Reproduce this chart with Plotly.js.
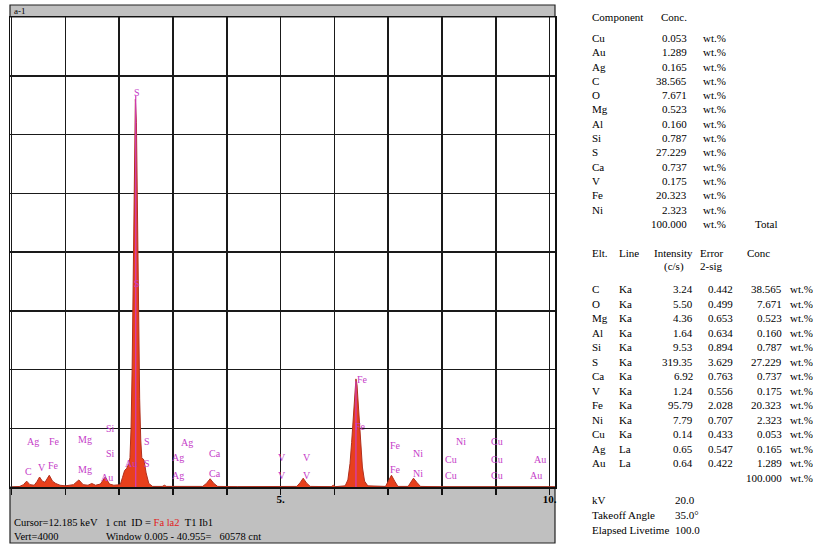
<!DOCTYPE html>
<html>
<head>
<meta charset="utf-8">
<script src="https://cdn.plot.ly/plotly-3.0.1.min.js"></script>
<style>
html,body{margin:0;padding:0;background:#fff;}
#chart{width:813px;height:545px;}
</style>
</head>
<body>
<div id="chart"></div>
<script>
// ---- Spectrum data (energy in keV, counts) ----
const energy = [0.00,0.15,0.22,0.28,0.34,0.42,0.47,0.52,0.57,0.62,0.70,0.76,0.82,0.90,1.00,1.15,1.25,1.33,1.42,1.49,1.56,1.65,1.74,1.82,1.90,
  2.02,2.06,2.10,2.14,2.18,2.20,2.22,2.24,2.26,2.28,2.30,2.32,2.34,2.36,2.38,2.40,2.42,2.46,2.50,2.55,2.62,2.80,2.84,2.88,3.20,
  3.55,3.62,3.69,3.76,3.83,4.20,5.30,5.36,5.42,5.48,5.55,5.94,5.98,6.02,
  6.20,6.25,6.29,6.32,6.35,6.38,6.40,6.42,6.45,6.48,6.52,6.56,6.62,
  6.95,7.00,7.06,7.12,7.18,7.37,7.42,7.47,7.53,7.60,8.00,9.00,10.10];
const counts = [0,5,20,50,20,15,45,85,50,40,100,50,30,15,10,20,60,20,15,30,15,25,85,25,15,
  20,80,140,160,200,250,500,1000,1800,2700,3300,3100,2300,1400,750,400,250,230,120,30,5,5,15,5,4,
  5,30,70,30,5,3,5,35,75,35,5,3,15,3,
  10,60,200,380,620,850,920,870,650,400,170,50,10,
  5,50,100,50,5,5,40,75,40,5,2,2,2];

// KLM marker lines
const markerEnergy = [2.307, 6.40];
const markerTop = [3330, 900];

// Element labels on the spectrum
const labelText = ['S','S','Ag','Fe','C','V','Fe','Mg','Mg','Si','Si','Au','S','Au','S','Ag','Ag','Ag','Ca','Ca',
  'V','V','V','V','Fe','Fe','Fe','Fe','Ni','Ni','Ni','Cu','Cu','Cu','Cu','Cu','Au','Au'];
const labelEnergy = [2.33,2.33,0.40,0.79,0.32,0.56,0.77,1.36,1.36,1.83,1.83,1.77,2.52,2.22,2.52,3.26,3.09,3.09,3.78,3.78,
  5.03,5.03,5.49,5.49,6.52,6.48,7.13,7.13,7.56,7.56,8.36,8.17,8.17,9.03,9.03,9.03,9.83,9.75];
const labelCounts = [3361,1736,391,391,136,170,179,408,145,494,289,85,391,204,196,383,247,94,281,111,
  247,102,247,102,919,511,349,153,289,119,391,238,94,391,238,94,238,94];

// Axis tick labels
const tickValues = [0,1,2,3,4,5,6,7,8,9,10];
const tickLabels = ['','','','','','5.','','','','','10.'];

// Table 1
const compNames = ['Cu','Au','Ag','C','O','Mg','Al','Si','S','Ca','V','Fe','Ni'];
const compConc = [0.053,1.289,0.165,38.565,7.671,0.523,0.160,0.787,27.229,0.737,0.175,20.323,2.323];
const compTotal = 100.000;

// Table 2
const eltNames = ['C','O','Mg','Al','Si','S','Ca','V','Fe','Ni','Cu','Ag','Au'];
const eltLines = ['Ka','Ka','Ka','Ka','Ka','Ka','Ka','Ka','Ka','Ka','Ka','La','La'];
const intensity = [3.24,5.50,4.36,1.64,9.53,319.35,6.92,1.24,95.79,7.79,0.14,0.65,0.64];
const error2sig = [0.442,0.499,0.653,0.634,0.894,3.629,0.763,0.556,2.028,0.707,0.433,0.547,0.422];
const eltConc = [38.565,7.671,0.523,0.160,0.787,27.229,0.737,0.175,20.323,2.323,0.053,0.165,1.289];

// Acquisition parameters
const paramNames = ['kV','Takeoff Angle','Elapsed Livetime'];
const paramValues = ['20.0','35.0\u00b0','100.0'];

// ---- layout helpers (pixel -> paper) ----
const PL=10, PR=555, PT=17, PB=487;
const px = x => (x-PL)/(PR-PL);
const py = y => (PB-y)/(PB-PT);
const SERIF = 'Liberation Serif, Times New Roman, serif';
const ann = [];
function txt(x,y,t,anchor,opts){
  ann.push(Object.assign({xref:'paper',yref:'paper',x:px(x),y:py(y),text:t,showarrow:false,
    xanchor:anchor||'left',yanchor:'middle',font:{family:SERIF,size:11,color:'#000'}},opts||{}));
}

// Table 1
txt(590,17,'Component'); txt(659,17,'Conc.');
compNames.forEach((n,i)=>{
  const y=38+i*14.3;
  txt(590,y,n); txt(689,y,compConc[i].toFixed(3),'right'); txt(701,y,'wt.%');
});
txt(689,38+13*14.3,compTotal.toFixed(3),'right'); txt(701,38+13*14.3,'wt.%'); txt(753,38+13*14.3,'Total');

// Table 2
txt(590,253,'Elt.'); txt(617,253,'Line'); txt(652,253,'Intensity'); txt(698,253,'Error'); txt(745,253,'Conc');
txt(662,266,'(c/s)'); txt(698,266,'2-sig');
eltNames.forEach((n,i)=>{
  const y=289+i*14.5;
  txt(590,y,n); txt(617,y,eltLines[i]);
  txt(695,y,intensity[i].toFixed(2),'right');
  txt(735,y,error2sig[i].toFixed(3),'right');
  txt(784,y,eltConc[i].toFixed(3),'right');
  txt(788,y,'wt.%');
});
txt(784,289+13*14.5,compTotal.toFixed(3),'right'); txt(788,289+13*14.5,'wt.%');
paramNames.forEach((n,i)=>{ const y=500+i*15; txt(590,y,n); txt(673,y,paramValues[i]); });

// Status text
txt(12,11,'a-1','left',{font:{family:SERIF,size:9,color:'#000'}});
txt(12,522,'Cursor=12.185 keV&nbsp;&nbsp;&nbsp;1 cnt&nbsp;&nbsp;ID = <span style="color:#e02020">Fa la2</span>&nbsp;&nbsp;T1 Ib1','left',{font:{family:SERIF,size:10.5,color:'#000'}});
txt(12,536,'Vert=4000','left',{font:{family:SERIF,size:10.5,color:'#000'}});
txt(104,536,'Window 0.005 - 40.955=&nbsp;&nbsp;&nbsp;60578 cnt','left',{font:{family:SERIF,size:10.5,color:'#000'}});

// Spectrum labels
labelText.forEach((t,i)=>{
  ann.push({xref:'x',yref:'y',x:labelEnergy[i],y:labelCounts[i],text:t,showarrow:false,
    xanchor:'center',yanchor:'middle',font:{family:SERIF,size:10,color:'#c53cc8'}});
});

const traces = [
  {x:energy,y:counts,type:'scatter',mode:'lines',fill:'tozeroy',
   line:{color:'#b0301e',width:1},fillcolor:'#e8401c',hoverinfo:'skip'}
];
markerEnergy.forEach((e,i)=>{
  traces.push({x:[e,e],y:[0,markerTop[i]],type:'scatter',mode:'lines',
    line:{color:'#d23cc0',width:1.2},hoverinfo:'skip'});
});

const layout = {
  width:813,height:545,
  margin:{l:PL,r:813-PR,t:PT,b:545-PB,pad:0},
  paper_bgcolor:'#ffffff',plot_bgcolor:'#ffffff',
  showlegend:false,
  xaxis:{range:[-0.03,10.1],tickvals:tickValues,ticktext:tickLabels,ticks:'outside',ticklen:6,tickwidth:1.5,
    tickcolor:'#111',showgrid:true,gridcolor:'#1a1a1a',gridwidth:1.5,zeroline:false,showline:true,linecolor:'#111',
    linewidth:1.5,mirror:true,ticklabelstandoff:-5,tickfont:{family:SERIF,size:11,color:'#000',weight:'bold'},fixedrange:true},
  yaxis:{range:[0,4000],dtick:500,showticklabels:false,ticks:'',showgrid:true,gridcolor:'#1a1a1a',gridwidth:1.5,
    zeroline:false,showline:true,linecolor:'#111',linewidth:1.5,mirror:true,fixedrange:true},
  shapes:[
    {type:'rect',xref:'paper',yref:'paper',x0:px(10),x1:px(555),y0:py(17),y1:py(5),fillcolor:'#c0c0c0',line:{color:'#222',width:1.2},layer:'below'},
    {type:'rect',xref:'paper',yref:'paper',x0:px(10),x1:px(555),y0:py(543),y1:py(487),fillcolor:'#c0c0c0',line:{color:'#222',width:1.2},layer:'below'}
  ],
  annotations:ann
};
Plotly.newPlot('chart',traces,layout,{staticPlot:true,displayModeBar:false});
</script>
</body>
</html>
